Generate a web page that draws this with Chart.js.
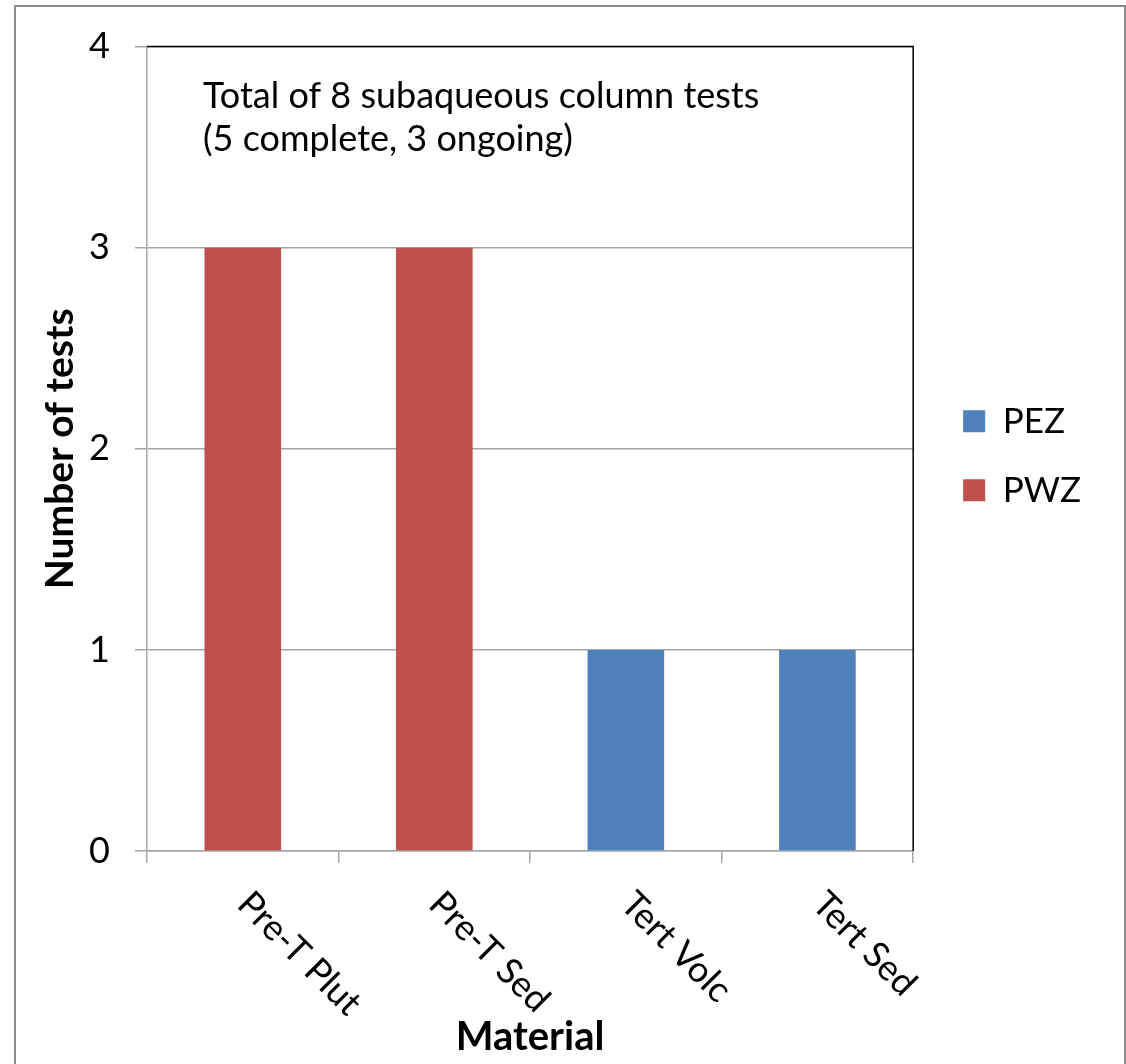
<!DOCTYPE html>
<html><head><meta charset="utf-8">
<script src="https://cdn.jsdelivr.net/npm/chart.js@4/dist/chart.umd.min.js"></script>
<style>html,body{margin:0;padding:0;background:#fff;overflow:hidden}</style>
</head><body>
<canvas id="c" width="1126" height="1064"></canvas>
<script>
// ---- data ----
const categories = ['Pre-T Plut', 'Pre-T Sed', 'Tert Volc', 'Tert Sed'];
const seriesNames = ['PEZ', 'PWZ'];
const pezValues = [0, 0, 1, 1];
const pwzValues = [3, 3, 0, 0];
const yTickValues = [0, 1, 2, 3, 4];
const noteLines = ['Total of 8 subaqueous column tests', '(5 complete, 3 ongoing)'];
const xTitle = 'Material';
const yTitle = 'Number of tests';

const FONT = 'Lato';
Chart.defaults.font.family = FONT;
Chart.defaults.color = '#000';

const framePlugin = {
  id: 'frame',
  beforeDraw(chart) {
    const ctx = chart.ctx;
    ctx.save();
    ctx.fillStyle = '#fff';
    ctx.fillRect(0, 0, chart.width, chart.height);
    ctx.strokeStyle = '#8c8c8c';
    ctx.lineWidth = 2;
    ctx.strokeRect(15, 6, 1110, 1100);
    ctx.restore();
  },
  afterDraw(chart) {
    const ctx = chart.ctx;
    const a = chart.chartArea;
    ctx.save();
    // plot area border top/right (black)
    ctx.strokeStyle = '#000';
    ctx.lineWidth = 1.5;
    ctx.beginPath();
    ctx.moveTo(a.left, a.top);
    ctx.lineTo(a.right, a.top);
    ctx.lineTo(a.right, a.bottom);
    ctx.stroke();
    // rotated category labels
    const xs = chart.scales.x;
    ctx.fillStyle = '#000';
    ctx.font = '36px ' + FONT;
    ctx.textAlign = 'left';
    ctx.textBaseline = 'middle';
    categories.forEach((lab, i) => {
      const cx = xs.getPixelForValue(i);
      ctx.save();
      ctx.translate(cx + 1, a.bottom + 47);
      ctx.rotate(Math.PI / 4);
      ctx.fillText(lab, 0, 0);
      ctx.restore();
    });
    // annotation
    ctx.font = '36px ' + FONT;
    ctx.textBaseline = 'alphabetic';
    noteLines.forEach((t, i) => ctx.fillText(t, 203, 108 + i * 43));
    ctx.restore();
  }
};

new Chart(document.getElementById('c'), {
  type: 'bar',
  data: {
    labels: categories,
    datasets: [
      { label: seriesNames[0], data: pezValues, backgroundColor: '#4f81bd', borderWidth: 0 },
      { label: seriesNames[1], data: pwzValues, backgroundColor: '#c0504d', borderWidth: 0 }
    ]
  },
  options: {
    responsive: false,
    devicePixelRatio: 1,
    animation: false,
    layout: { padding: { left: 0, right: 35, top: 43, bottom: 0 } },
    datasets: { bar: { barPercentage: 0.4, categoryPercentage: 1.0 } },
    plugins: {
      legend: {
        position: 'right',
        fullSize: false,
        title: { display: true, text: ' ', font: { size: 10 }, padding: 1 },
        labels: {
          boxWidth: 22, boxHeight: 22, padding: 34,
          font: { size: 35, family: FONT }, color: '#000'
        }
      },
      tooltip: { enabled: false }
    },
    scales: {
      x: {
        stacked: true,
        grid: { display: true, drawOnChartArea: false, drawTicks: true, tickLength: 12, color: '#a6a6a6', lineWidth: 1.5 },
        border: { display: true, color: '#a6a6a6', width: 1.5 },
        ticks: { display: false },
        title: { display: true, text: xTitle, font: { size: 40, weight: 'bold', family: FONT }, color: '#000', padding: { top: 0, bottom: 3 } },
        afterFit(s) { s.height = 213; }
      },
      y: {
        stacked: true,
        min: 0, max: 4,
        afterBuildTicks(s) { s.ticks = yTickValues.map(v => ({ value: v })); },
        grid: { color: '#a6a6a6', lineWidth: 1.5, tickLength: 12, drawTicks: true },
        border: { display: true, color: '#a6a6a6', width: 1.5 },
        ticks: { font: { size: 36, family: FONT }, color: '#000', padding: 25 },
        title: { display: true, text: yTitle, font: { size: 39, weight: 'bold', family: FONT }, color: '#000', padding: { top: 37, bottom: 0 } },
        afterFit(s) { s.width = 147; }
      },
      y2: {
        position: 'right',
        display: true,
        grid: { display: false, drawTicks: false },
        border: { display: false },
        ticks: { display: false },
        afterFit(s) { s.width = 16; }
      }
    }
  },
  plugins: [framePlugin]
});
</script>
</body></html>
